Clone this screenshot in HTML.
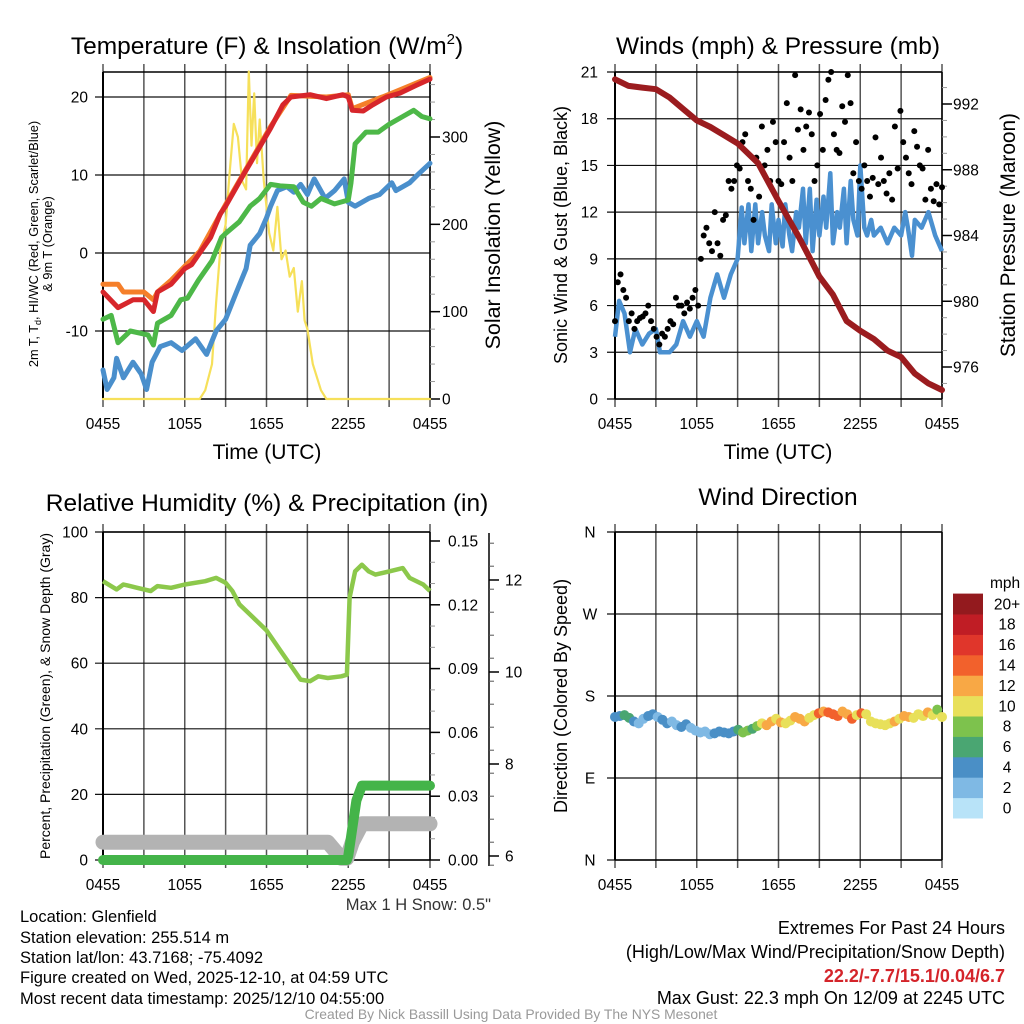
<!DOCTYPE html>
<html><head><meta charset="utf-8"><style>
html,body{margin:0;padding:0;background:#fff;}
svg{display:block;font-family:"Liberation Sans",sans-serif;}
</style></head><body>
<svg id="c" width="1024" height="1024" viewBox="0 0 1024 1024">
<rect width="1024" height="1024" fill="#fff"/>
<g id="g"></g>
<text x="267" y="54" font-size="24.5" text-anchor="middle">Temperature (F) &amp; Insolation (W/m<tspan font-size="15" dy="-10">2</tspan><tspan dy="10">)</tspan></text>
<text x="778" y="54" font-size="24.5" text-anchor="middle">Winds (mph) &amp; Pressure (mb)</text>
<text x="267" y="511" font-size="24.5" text-anchor="middle">Relative Humidity (%) &amp; Precipitation (in)</text>
<text x="778" y="505" font-size="24.5" text-anchor="middle">Wind Direction</text>
<text x="267" y="459" font-size="21" text-anchor="middle">Time (UTC)</text>
<text x="778" y="459" font-size="21" text-anchor="middle">Time (UTC)</text>
<g font-size="12.8" text-anchor="middle">
<text transform="translate(38,244) rotate(-90)">2m T, T<tspan font-size="9" dy="3">d</tspan><tspan dy="-3">, HI/WC (Red, Green, Scarlet/Blue)</tspan></text>
<text transform="translate(52,244) rotate(-90)">&amp; 9m T (Orange)</text>
</g>
<text transform="translate(500,235) rotate(-90)" font-size="21.4" text-anchor="middle">Solar Insolation (Yellow)</text>
<text transform="translate(567,235) rotate(-90)" font-size="18" text-anchor="middle">Sonic Wind &amp; Gust (Blue, Black)</text>
<text transform="translate(1015,235) rotate(-90)" font-size="20.8" text-anchor="middle">Station Pressure (Maroon)</text>
<text transform="translate(50,696) rotate(-90)" font-size="14" text-anchor="middle">Percent, Precipitation (Green), &amp; Snow Depth (Gray)</text>
<text transform="translate(567,696) rotate(-90)" font-size="18" text-anchor="middle">Direction (Colored By Speed)</text>
<text x="491" y="910" font-size="16.5" text-anchor="end" fill="#333">Max 1 H Snow: 0.5"</text>
<g font-size="16.5">
<text x="20" y="922">Location: Glenfield</text>
<text x="20" y="943">Station elevation: 255.514 m</text>
<text x="20" y="963">Station lat/lon: 43.7168; -75.4092</text>
<text x="20" y="983">Figure created on Wed, 2025-12-10, at 04:59 UTC</text>
<text x="20" y="1004">Most recent data timestamp: 2025/12/10 04:55:00</text>
</g>
<g font-size="18" text-anchor="end">
<text x="1005" y="934">Extremes For Past 24 Hours</text>
<text x="1005" y="958">(High/Low/Max Wind/Precipitation/Snow Depth)</text>
<text x="1005" y="982" fill="#d4242a" font-weight="bold">22.2/-7.7/15.1/0.04/6.7</text>
<text x="1005" y="1004">Max Gust: 22.3 mph On 12/09 at 2245 UTC</text>
</g>
<text x="511" y="1019" font-size="13.9" text-anchor="middle" fill="#999">Created By Nick Bassill Using Data Provided By The NYS Mesonet</text>
</svg>
<script>
// ---------- DATA ----------
const xTickLabels = ["0455","1055","1655","2255","0455"];
const tempTicks = [-10,0,10,20];
const solarTicks = [0,100,200,300];
const windTicks = [0,3,6,9,12,15,18,21];
const pressTicks = [976,980,984,988,992];
const rhTicks = [0,20,40,60,80,100];
const precipTicks = ["0.00","0.03","0.06","0.09","0.12","0.15"];
const snowTicks = [6,8,10,12];
const dirLabels = ["N","E","S","W","N"];
const cbLabels = ["0","2","4","6","8","10","12","14","16","18","20+"];
const cbColors = ["#b8e3f8","#7fb9e4","#4a8fc6","#4aa672","#7dc24d","#e8e05a","#f8a845","#f2612c","#e0362b","#c01d25","#931a1e"];

const tT = [0,1.1,2.2,3.0,3.7,4.0,5,6,6.5,7.1,7.9,8.6,9,10.3,11.3,12.3,13.2,13.8,15.2,16.4,17.6,18,18.3,19.1,19.8,20.8,21.8,23,24];
const tempRed = [-5,-7,-6,-6,-7.5,-5,-4,-2,-1.5,0,2,5,6,10,13,16,19,20,20.3,19.8,20.3,20,18.3,18.2,19,20,20.5,21.5,22.3];
const tO = [0,1.1,1.5,3,3.7,4,5,6,7.1,9,12.3,13.8,16.4,18,18.3,20.8,24];
const temp9m = [-4,-4,-5,-5,-6,-5,-3.5,-1.7,0.2,6.2,16.2,20.2,20,20.3,18.5,20.2,22.5];
const tD = [0,0.6,1.1,2,3.3,3.7,4,5,5.7,6.2,7,8,8.7,9,10,10.8,11.5,12.3,13,14,14.7,15.3,16,17,18,18.2,18.5,19.3,20.2,21,22,22.8,23.4,24];
const dewpoint = [-8.5,-8,-11.5,-10,-10.5,-11.8,-9,-8,-6,-5.8,-3.5,-1,2,2.5,4,6,7,8.8,8.6,8.5,6.5,6,7,6.3,6.8,9,14,15.5,15.5,16.5,17.5,18.3,17.5,17.2];
const tW = [0,0.3,0.8,1,1.5,2.2,2.8,3.2,3.6,4.2,5,5.8,6.8,7.6,8.3,9,9.8,10.5,10.8,11.5,12,12.3,12.8,13.5,14,14.5,15,15.5,16.3,17,17.7,18,18.5,19.5,20.3,21.2,21.5,22,22.5,23.2,24];
const windChill = [-15,-17.5,-16,-13.5,-16,-14,-15.5,-17.5,-14,-12,-11.5,-12.5,-11,-13,-10,-8.5,-5,-2,1,2.5,4.5,6,8,8.5,7.8,8.8,7.5,9.5,7,8,9.5,6.5,6,7,7.5,9,8,8.5,9,10.2,11.5];
const tS = [0,7.1,7.5,8,8.3,8.6,9,9.3,9.6,9.9,10.2,10.5,10.7,10.9,11.1,11.3,11.5,11.8,12.2,12.5,12.8,13.1,13.4,13.7,14,14.3,14.6,14.8,15,15.4,16,16.4,24];
const solar = [0,0,10,40,110,170,200,260,315,300,250,240,375,290,350,270,320,250,190,170,220,160,170,140,150,100,135,90,80,40,10,0,0];

const tWind = [0,0.3,0.7,1.1,1.5,2,2.5,3,3.3,4,4.5,5,5.5,6,6.5,7,7.5,8,8.5,9,9.3,9.5,9.8,10,10.3,10.5,10.8,11,11.3,11.5,11.8,12,12.3,12.5,12.8,13,13.3,13.5,13.8,14,14.3,14.5,14.8,15,15.3,15.5,15.8,16,16.3,16.5,16.8,17,17.3,17.5,17.8,18,18.3,18.5,18.8,19,19.5,20,20.5,21,21.3,21.5,21.8,22,22.5,23,23.5,24];
const windSpeed = [4,6.3,5.5,3,4.5,3.5,4.2,4.5,3,3,3.5,5,4,5,4,6.5,8,6.5,8,9,12.3,10,12.5,9.5,12.5,10,12,10.5,9.5,12.5,10,11.5,9.8,12.5,10.5,9.5,12,11,13.5,10,13.5,9.5,12.8,10.5,13,11,14.5,10,12,11,13.5,10,14,11.5,10.5,15,11,10.5,11.5,10.5,11,10,11,10.5,12,11,9.2,11.5,11,12,10.5,9.5];
const gusts = [5,7.5,8,7,6.5,5,5.5,4.5,5,5.2,5.3,5.5,6,5,4.5,4,3.5,4.2,4,4.5,5,4.8,6.5,6,6,5.5,6.2,5.8,6.5,7,6,9,10.5,11,10,9.5,12,10,9.2,11.5,11.8,14,13.5,14,15,14.8,16.5,17,14,13.5,11.5,15.5,13,17.5,15,16,14,17.8,16.5,14,13.8,16.5,19,15.5,14,20.8,17.3,18.6,16,17.5,18.4,17,14,15,18.3,16,19.2,20.5,21,17,16,15.8,18.8,17.8,20.8,19,14.5,16.5,14,13.5,15,14,13,14.2,16.8,13.8,15.5,14,13.2,14.5,12.8,17.5,14.8,18.5,16.5,15.5,14.5,13.8,17.2,16.2,15,14.8,12.8,16,13.5,12.7,13.8,12.5,13.6];
const tP = [0,1,2,3,4,5,6,7,8,9,10.5,12,13.5,14.5,15,16,17,18,19,20,21,22,23,24];
const pressure = [993.5,993.1,993.0,992.9,992.4,991.7,991.0,990.6,990.1,989.6,988.4,986.1,983.9,982.3,981.5,980.4,978.8,978.2,977.7,977.0,976.6,975.6,975.0,974.6];

const tRH = [0,1,1.5,2.5,3.5,4,5,6,7.5,8.3,9,9.5,10,11,12,13,13.5,14.5,15.2,15.8,16.5,17.5,17.9,18.1,18.5,19,19.5,20,21,22,22.5,23.5,24];
const rh = [85,82.5,84,83,82,83.5,83,84,85,86,84.5,82,78,74,70,64,61,55,54.5,56,55.5,56,56.5,80,88,90,88,87,88,89,86,84,82];
const tPr = [0,17.9,18,18.3,18.6,19,24];
const precip = [0,0,0.002,0.015,0.028,0.035,0.035];
const tSn = [0,16.5,17.5,17.9,18.3,19,24];
const snowDepth = [6.3,6.3,5.95,5.95,6.3,6.7,6.7];

const windDir = [157,158,159,156,152,150,155,158,160,157,154,150,152,148,146,149,145,142,140,141,138,139,141,140,139,141,143,140,142,144,147,150,148,152,155,151,150,153,157,155,152,156,159,161,163,162,160,158,163,160,155,159,161,160,152,150,149,148,150,152,155,158,157,156,160,158,162,159,165,157];
const dirSpeed = [4,5,6,6,4,3,3,4,4,2,4,4,2,2,4,4,3,2,2,2,3,4,4,4,4,4,7,8,8,7,9,10,12,12,10,12,11,10,13,12,12,10,11,14,13,15,15,14,12,13,15,11,14,10,10,10,10,11,10,12,10,12,12,11,10,11,12,10,8,11];

// ---------- DRAW ----------
const NS="http://www.w3.org/2000/svg";
const G=document.getElementById('g');
const FS=15.5;
function el(tag,attrs,parent){const e=document.createElementNS(NS,tag);for(const k in attrs)e.setAttribute(k,attrs[k]);(parent||G).appendChild(e);return e;}
function lin(d0,d1,r0,r1){return v=>r0+(v-d0)*(r1-r0)/(d1-d0);}
function pathD(ts,vs,sx,sy){return ts.map((t,i)=>(i?'L':'M')+sx(t).toFixed(1)+','+sy(vs[i]).toFixed(1)).join('');}

function frame(x0,x1,y0,y1,hTicksY,name){
  const g=el('g',{});
  
  
  for(let h=0;h<=24;h+=3){const x=lin(0,24,x0,x1)(h);el('line',{x1:x,x2:x,y1:y0-8,y2:y1+8,stroke:'#555','stroke-width':1.5},g);}
  hTicksY.forEach(y=>el('line',{x1:x0-8,x2:x1,y1:y,y2:y,stroke:'#111','stroke-width':1.2},g));
  el('line',{x1:x0,x2:x0,y1:y0,y2:y1,stroke:'#000','stroke-width':2},g);
  el('line',{x1:x1,x2:x1,y1:y0,y2:y1,stroke:'#000','stroke-width':1.5},g);
  el('line',{x1:x0,x2:x1,y1:y0,y2:y0,stroke:'#000','stroke-width':1.5},g);
  el('line',{x1:x0,x2:x1,y1:y1,y2:y1,stroke:'#000','stroke-width':1.5},g);
  const lab=el('g',{'font-size':FS,'text-anchor':'middle'});
  
  
  xTickLabels.forEach((s,i)=>{const t=el('text',{x:lin(0,24,x0,x1)(i*6),y:y1+30},lab);t.textContent=s;});
}
function leftLabels(vals,sy,x,name){const g=el('g',{'font-size':FS,'text-anchor':'end'});vals.forEach(v=>{const t=el('text',{x:x,y:sy(v)+5.5},g);t.textContent=v;});}
function rightAxis(vals,sy,xAxis,xText,name,minorStep,lo,hi){const g=el('g',{'font-size':FS});
  if(minorStep){for(let v=lo;v<=hi+1e-9;v+=minorStep){el('line',{x1:xAxis,x2:xAxis+5,y1:sy(v),y2:sy(v),stroke:'#999','stroke-width':1},g);}}
  vals.forEach(v=>{el('line',{x1:xAxis,x2:xAxis+10,y1:sy(+v),y2:sy(+v),stroke:'#000','stroke-width':1.5},g);const t=el('text',{x:xText,y:sy(+v)+5.5},g);t.textContent=v;});}

// Panel 1: Temperature
(function(){
  const x0=103,x1=430,y0=72,y1=399;
  const sx=lin(0,24,x0,x1), sy=lin(0,20,253,97), sr=lin(0,300,399,137);
  frame(x0,x1,y0,y1,tempTicks.map(sy),'temperature');
  leftLabels(tempTicks,sy,88,'temperature-y-tick-labels');
  rightAxis(solarTicks,sr,x1,442,'solar-y-axis',20,0,370);
  const s=[[solar,tS,'#f6e05a',2.2,'solar-insolation-line',sr],[windChill,tW,'#4a8fcc',5,'wind-chill-line',sy],[dewpoint,tD,'#4db848',5,'dewpoint-line',sy],[temp9m,tO,'#f57f2a',5,'temp-9m-line',sy],[tempRed,tT,'#d7262b',5,'temp-2m-line',sy]];
  s.forEach(([v,t,c,w,n,yy])=>{const p=el('path',{d:pathD(t,v,sx,yy),fill:'none',stroke:c,'stroke-width':w,'stroke-linejoin':'round','stroke-linecap':'round'});
    
    });
})();

// Panel 2: Winds
(function(){
  const x0=615,x1=942,y0=72,y1=399;
  const sx=lin(0,24,x0,x1), sy=lin(0,21,399,72), sp=lin(976,992,367,104);
  frame(x0,x1,y0,y1,windTicks.map(sy),'winds');
  leftLabels(windTicks,sy,598,'wind-y-tick-labels');
  rightAxis(pressTicks,sp,x1,953,'pressure-y-axis',1,975,993);
  const p=el('path',{d:pathD(tWind,windSpeed,sx,sy),fill:'none',stroke:'#4a90d0','stroke-width':4.5,'stroke-linejoin':'round'});
  
  
  const gg=el('g',{fill:'#000'});
  
  
  gusts.forEach((v,i)=>{el('circle',{cx:sx(i*24/(gusts.length-1)),cy:sy(v),r:3},gg);});
  const pp=el('path',{d:pathD(tP,pressure,sx,sp),fill:'none',stroke:'#9b1c1f','stroke-width':6,'stroke-linecap':'round','stroke-linejoin':'round'});
  
  
})();

// Panel 3: Humidity
(function(){
  const x0=103,x1=430,y0=532,y1=860;
  const sx=lin(0,24,x0,x1), sy=lin(0,100,860,532), spr=lin(0,0.15,860,541), ssn=lin(6,12,856,580);
  frame(x0,x1,y0,y1,rhTicks.map(sy),'humidity');
  leftLabels(rhTicks,sy,88,'humidity-y-tick-labels');
  rightAxis(precipTicks,spr,x1,448,'precip-y-axis',0.01,0,0.155);
  const sa=el('g',{});
  
  
  el('line',{x1:489,x2:489,y1:533,y2:866,stroke:'#000','stroke-width':1.5},sa);
  for(let v=5.8;v<=12.9;v+=0.5){el('line',{x1:489,x2:494,y1:ssn(v),y2:ssn(v),stroke:'#555'},sa);}
  snowTicks.forEach(v=>{el('line',{x1:489,x2:499,y1:ssn(v),y2:ssn(v),stroke:'#000','stroke-width':1.5},sa);const t=el('text',{x:505,y:ssn(v)+5.5,'font-size':FS},sa);t.textContent=v;});
  const a=el('path',{d:pathD(tSn,snowDepth,sx,ssn),fill:'none',stroke:'#b3b3b3','stroke-width':15,'stroke-linecap':'round','stroke-linejoin':'round'});
  
  
  const b=el('path',{d:pathD(tPr,precip,sx,spr),fill:'none',stroke:'#44b449','stroke-width':10,'stroke-linecap':'round','stroke-linejoin':'round'});
  
  
  const c=el('path',{d:pathD(tRH,rh,sx,sy),fill:'none',stroke:'#8cc84b','stroke-width':4.5,'stroke-linejoin':'round'});
  
  
})();

// Panel 4: Wind direction
(function(){
  const x0=615,x1=942,y0=532,y1=860;
  const sx=lin(0,24,x0,x1), sy=lin(0,360,860,532);
  frame(x0,x1,y0,y1,[0,90,180,270,360].map(sy),'direction');
  const lg=el('g',{'font-size':FS,'text-anchor':'middle'});
  
  
  dirLabels.forEach((s,i)=>{const t=el('text',{x:590,y:sy(i*90)+5.5},lg);t.textContent=s;});
  const dg=el('g',{});
  
  
  windDir.forEach((d,i)=>{const c=cbColors[Math.min(10,Math.floor(dirSpeed[i]/2))];el('circle',{cx:sx(i*24/(windDir.length-1)),cy:sy(d),r:5,fill:c},dg);});
  const cb=el('g',{});
  
  
  const t0=el('text',{x:990,y:588,'font-size':FS},cb);t0.textContent='mph';
  const h=20.4;
  cbColors.forEach((c,i)=>{const y=818-(i+1)*h;el('rect',{x:953,y:y,width:30,height:h+0.5,fill:c},cb);const t=el('text',{x:1007,y:y+h/2+5.5,'font-size':FS,'text-anchor':'middle'},cb);t.textContent=cbLabels[i];});
})();
</script>
</body></html>
